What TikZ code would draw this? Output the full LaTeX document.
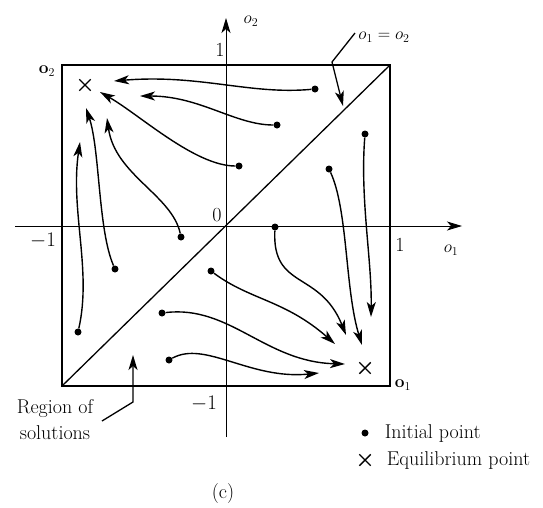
\documentclass[tikz,border=0pt]{standalone}
\usepackage{amsmath,amssymb}
\usepackage{tikz}
\usetikzlibrary{arrows.meta, shapes.misc, positioning}
\tikzset{
  initpt/.style={circle, fill=black, inner sep=0pt, minimum size=7pt},
  eqpt/.style={cross out, draw=black, line width=1.4pt, inner sep=0pt, minimum size=10pt},
  tip/.style={-{Stealth[length=15pt,width=9pt,inset=4pt]}},
  traj/.style={tip, line width=1.4pt},
  frame/.style={line width=1.9pt},
  axis/.style={tip, line width=0.9pt},
  lead/.style={line width=1.3pt},
  small/.style={font=\fontsize{17}{19}\selectfont, inner sep=0pt},
}

\begin{document}
\begin{tikzpicture}[x=1pt, y=-1pt, font=\fontsize{20}{24}\selectfont]
  \useasboundingbox (0,0) rectangle (543,507);

  % frame, diagonal and axes
  \coordinate (bl) at (62,386);
  \coordinate (tr) at (390,65);
  \draw[frame] (bl) rectangle (tr);
  \draw[line width=1.3pt] (bl) -- (tr);
  \coordinate (xs) at (15,226);
  \coordinate (xe) at (462,226);
  \coordinate (ys) at (226,437);
  \coordinate (ye) at (226,18);
  \draw[axis] (xs) -- (xe);
  \draw[axis] (ys) -- (ye);

  \node[inner sep=0pt] (ytop) at (220,50) {1};
  \node[inner sep=0pt] (ybot) at (204,404) {$-1$};
  \node[inner sep=0pt] (xright) at (400,245) {1};
  \node[inner sep=0pt] (xleft) at (43,241) {$-1$};
  \node[inner sep=0pt] (orig) at (217,215) {0};
  \node[small] (ylbl) at (251,21) {$o_2$};
  \node[small] (xlbl) at (451,250) {$o_1$};
  \node[small] (cornA) at (47,71) {$\mathbf{o}_2$};
  \node[small] (cornB) at (403,385) {$\mathbf{o}_1$};

  % equilibrium points
  \node[eqpt] (eqA) at (85,85) {};
  \node[eqpt] (eqB) at (365,368) {};

  % initial points
  \node[initpt] (p1) at (315,89) {};
  \node[initpt] (p2) at (277,125) {};
  \node[initpt] (p3) at (239,166) {};
  \node[initpt] (p4) at (181,237) {};
  \node[initpt] (p5) at (115,269) {};
  \node[initpt] (p6) at (78,332) {};
  \node[initpt] (p7) at (275,227) {};
  \node[initpt] (p8) at (365,134) {};
  \node[initpt] (p9) at (329,169) {};
  \node[initpt] (p10) at (211,271) {};
  \node[initpt] (p11) at (162,313) {};
  \node[initpt] (p12) at (169,360) {};

  % trajectory ends
  \coordinate (t1) at (114,81);
  \coordinate (t2) at (140,96);
  \coordinate (t3) at (100,92);
  \coordinate (t4) at (107,118);
  \coordinate (t5) at (86,108);
  \coordinate (t6) at (80,142);
  \coordinate (t7) at (346,335);
  \coordinate (t8) at (371,317);
  \coordinate (t9) at (362,345);
  \coordinate (t10) at (335,344);
  \coordinate (t11) at (345,364);
  \coordinate (t12) at (319,373);

  \draw[traj] (p1) .. controls (250,95) and (200,74) .. (t1);
  \draw[traj] (p2) .. controls (235,125) and (200,96) .. (t2);
  \draw[traj] (p3) .. controls (195,166) and (140,115) .. (t3);
  \draw[traj] (p4) .. controls (172,195) and (115,175) .. (t4);
  \draw[traj] (p5) .. controls (98,230) and (100,150) .. (t5);
  \draw[traj] (p6) .. controls (92,270) and (70,210) .. (t6);
  \draw[traj] (p7) .. controls (272,290) and (320,270) .. (t7);
  \draw[traj] (p8) .. controls (360,200) and (372,260) .. (t8);
  \draw[traj] (p9) .. controls (348,210) and (345,290) .. (t9);
  \draw[traj] (p10) .. controls (250,300) and (285,300) .. (t10);
  \draw[traj] (p11) .. controls (230,305) and (265,362) .. (t11);
  \draw[traj] (p12) .. controls (205,340) and (250,380) .. (t12);

  % diagonal label
  \node[small] (diag) at (384,37) {$o_1 = o_2$};
  \coordinate (dA) at (355,33);
  \coordinate (dB) at (332,62);
  \coordinate (dC) at (343,106);
  \draw[lead, tip] (dA) -- (dB) -- (dC);

  % region label
  \node[align=center, inner sep=0pt, font=\fontsize{20}{26}\selectfont] (region) at (55,420) {Region of\\solutions};
  \coordinate (rA) at (102,421);
  \coordinate (rB) at (133,402);
  \coordinate (rC) at (133,355);
  \draw[lead, tip] (rA) -- (rB) -- (rC);

  % legend
  \node[initpt] (legA) at (365,433) {};
  \node[eqpt] (legB) at (365,460) {};
  \node[right=16pt of legA, inner sep=0pt] (legAtxt) {Initial point};
  \node[right=16pt of legB, inner sep=0pt] (legBtxt) {Equilibrium point};

  \node (cap) at (223,493) {(c)};
\end{tikzpicture}
\end{document}
